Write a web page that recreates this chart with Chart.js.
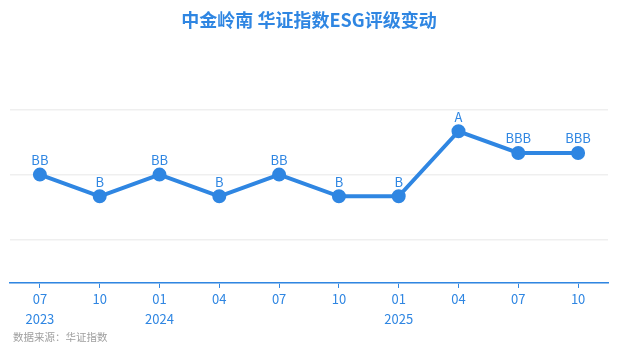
<!DOCTYPE html>
<html lang="zh">
<head>
  <meta charset="UTF-8">
  <title>中金岭南 华证指数ESG评级变动</title>
  <style>
    html, body { margin: 0; padding: 0; background: #fff; }
    #wrap { width: 618px; height: 355px; }
  </style>
</head>
<body>
  <div id="wrap">
    <canvas id="myChart"></canvas>
  </div>

  <script src="https://cdn.jsdelivr.net/npm/chart.js"></script>

  <script>
    // 数据
    const labels = [['07', '2023'], '10', ['01', '2024'], '04', '07', '10', ['01', '2025'], '04', '07', '10'];
    const ratings = ['BB', 'B', 'BB', 'B', 'BB', 'B', 'B', 'A', 'BBB', 'BBB'];
    const ratingScale = ['C', 'CC', 'CCC', 'B', 'BB', 'BBB', 'A', 'AA', 'AAA'];
    const gridValues = [0, 2, 5, 8];

    const values = ratings.map(r => ratingScale.indexOf(r) + 1);

    const blue = '#2f86e2';
    const font = '"Noto Sans CJK SC", "Microsoft YaHei", sans-serif';

    // 评级文字 + 数据来源
    const ratingLabels = {
      id: 'ratingLabels',
      afterDatasetsDraw(chart) {
        const ctx = chart.ctx;
        const meta = chart.getDatasetMeta(0);
        ctx.save();
        ctx.fillStyle = blue;
        ctx.font = '13px ' + font;
        ctx.textAlign = 'center';
        ctx.textBaseline = 'bottom';
        meta.data.forEach((pt, i) => {
          ctx.fillText(ratings[i], pt.x, pt.y - 8);
        });
        ctx.fillStyle = '#a0a0a0';
        ctx.font = '10.5px ' + font;
        ctx.textAlign = 'left';
        ctx.textBaseline = 'middle';
        ctx.fillText('数据来源：华证指数', 13, 337);
        ctx.restore();
      }
    };

    const ctx = document.getElementById('myChart').getContext('2d');
    new Chart(ctx, {
      type: 'line',
      data: {
        labels: labels,
        datasets: [{
          data: values,
          borderColor: blue,
          backgroundColor: blue,
          borderWidth: 4,
          pointRadius: 5,
          pointHoverRadius: 5,
          tension: 0
        }]
      },
      options: {
        responsive: true,
        maintainAspectRatio: false,
        animation: false,
        layout: { padding: { left: 10, right: 10, top: 0, bottom: 25 } },
        plugins: {
          legend: { display: false },
          tooltip: { enabled: false },
          title: {
            display: true,
            text: '中金岭南 华证指数ESG评级变动',
            color: blue,
            font: { family: font, size: 18, weight: 'bold' },
            padding: { top: 9, bottom: 79 }
          }
        },
        scales: {
          x: {
            offset: true,
            grid: {
              drawOnChartArea: false,
              drawTicks: true,
              tickLength: 5,
              color: blue
            },
            border: { color: blue, width: 1.5 },
            ticks: {
              color: blue,
              font: { family: font, size: 13, lineHeight: 1.54 },
              padding: 1,
              maxRotation: 0,
              autoSkip: false
            }
          },
          y: {
            min: 0,
            max: 8,
            afterBuildTicks(axis) {
              axis.ticks = gridValues.map(v => ({ value: v }));
            },
            grid: { color: '#efefef', drawTicks: false, lineWidth: 1.5 },
            border: { display: false },
            ticks: { display: false }
          }
        }
      },
      plugins: [ratingLabels]
    });
  </script>
</body>
</html>
